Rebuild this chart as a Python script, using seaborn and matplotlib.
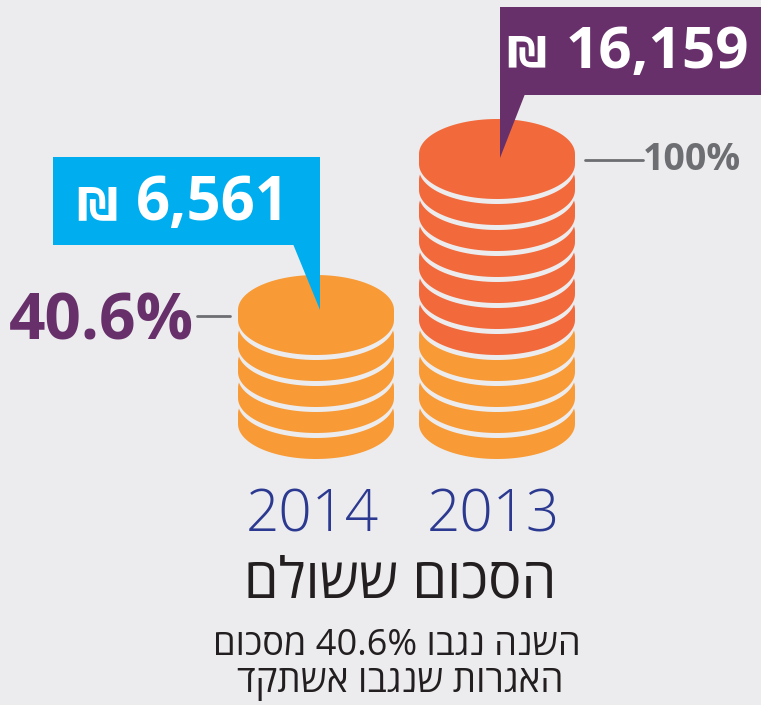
import numpy as np
import seaborn as sns
import matplotlib.pyplot as plt
from matplotlib.patches import Polygon, Rectangle

# data
years = ['2014', '2013']
amounts = [6561, 16159]
shares = [40.6, 100]
coins_orange = [5, 4]
coins_red = [0, 7]
title = 'הסכום ששולם'
note_lines = ['השנה נגבו {:g}% מסכום'.format(shares[0]), 'האגרות שנגבו אשתקד']

BG = '#ECECEE'
ORANGE = '#F89B37'
RED = '#F26A3C'
BLUE = '#00AEEF'
PURPLE = '#68306B'
GREY = '#6D6E71'
NAVY = '#2B3990'
DARK = '#231F20'

sns.set_theme(style='white', rc={'figure.facecolor': BG, 'axes.facecolor': BG})
plt.rcParams['font.family'] = ['Open Sans', 'DejaVu Sans']


def visual(s):
    # matplotlib has no bidi support: put the Hebrew in display order
    out = []
    for w in reversed(s.split(' ')):
        if any('\u0590' <= c <= '\u05ff' for c in w):
            w = w[::-1]
        out.append(w)
    return ' '.join(out)


def coin(cx, cy, a=78, b=35, t=10):
    th = np.linspace(np.pi, 0, 60)
    top = np.c_[cx + a * np.cos(th), cy - b * np.sin(th)]
    th2 = np.linspace(0, np.pi, 60)
    bot = np.c_[cx + a * np.cos(th2), cy + t + b * np.sin(th2)]
    return np.vstack([top, bot])


fig = plt.figure(figsize=(7.61, 7.05), dpi=100)
ax = fig.add_axes([0, 0, 1, 1])
ax.set_xlim(0, 761)
ax.set_ylim(705, 0)
ax.axis('off')

centers = [316, 497]
base = 459
step = 26
gap = 5
tops = []
for k in range(2):
    cols = [ORANGE] * coins_orange[k] + [RED] * coins_red[k]
    for i, c in enumerate(cols):
        cy = base - 45 - i * step
        shadow = coin(centers[k], cy + gap)
        ax.add_patch(Polygon(shadow, closed=True, fc=BG, ec='none'))
        ax.add_patch(Polygon(coin(centers[k], cy), closed=True, fc=c, ec='none'))
    tops.append(cy)

# callout 2014
ax.add_patch(Rectangle((53, 157), 267, 88, fc=BLUE, ec='none'))
ax.add_patch(Polygon([(293, 244), (320, 244), (centers[0] + 4, tops[0])], fc=BLUE, ec='none'))
ax.text(118, 220, '₪', color='white', fontsize=33, fontweight='bold', ha='right', va='baseline')
ax.text(136, 220, '{:,}'.format(amounts[0]), color='white', fontsize=43,
        fontweight='bold', ha='left', va='baseline')

# callout 2013
ax.add_patch(Rectangle((500, 7), 270, 88, fc=PURPLE, ec='none'))
ax.add_patch(Polygon([(500, 94), (525, 94), (centers[1] + 3, tops[1] + 4)], fc=PURPLE, ec='none'))
ax.text(546, 68, '₪', color='white', fontsize=32, fontweight='bold', ha='right', va='baseline')
ax.text(566, 68, '{:,}'.format(amounts[1]), color='white', fontsize=42,
        fontweight='bold', ha='left', va='baseline')

# share labels
ax.plot([197, 230], [316, 316], color=GREY, lw=2)
ax.text(101, 340, '{:g}%'.format(shares[0]), color=PURPLE, fontsize=46,
        fontweight='bold', ha='center', va='baseline')
ax.plot([585, 643], [160, 160], color=GREY, lw=2)
ax.text(643, 170, '{:g}%'.format(shares[1]), color=GREY, fontsize=27,
        fontweight='bold', ha='left', va='baseline')

# years
for k in range(2):
    ax.text(centers[k] - 4, 532, years[k], color=NAVY, fontsize=42,
            fontweight='light', ha='center', va='baseline')

ax.text(400, 597, visual(title), color=DARK, fontsize=40, ha='center', va='baseline')
ax.text(397, 655, visual(note_lines[0]), color=DARK, fontsize=26, ha='center', va='baseline')
ax.text(400, 692, visual(note_lines[1]), color=DARK, fontsize=26.5, ha='center', va='baseline')

fig.savefig('out.png', dpi=100, facecolor=BG)
